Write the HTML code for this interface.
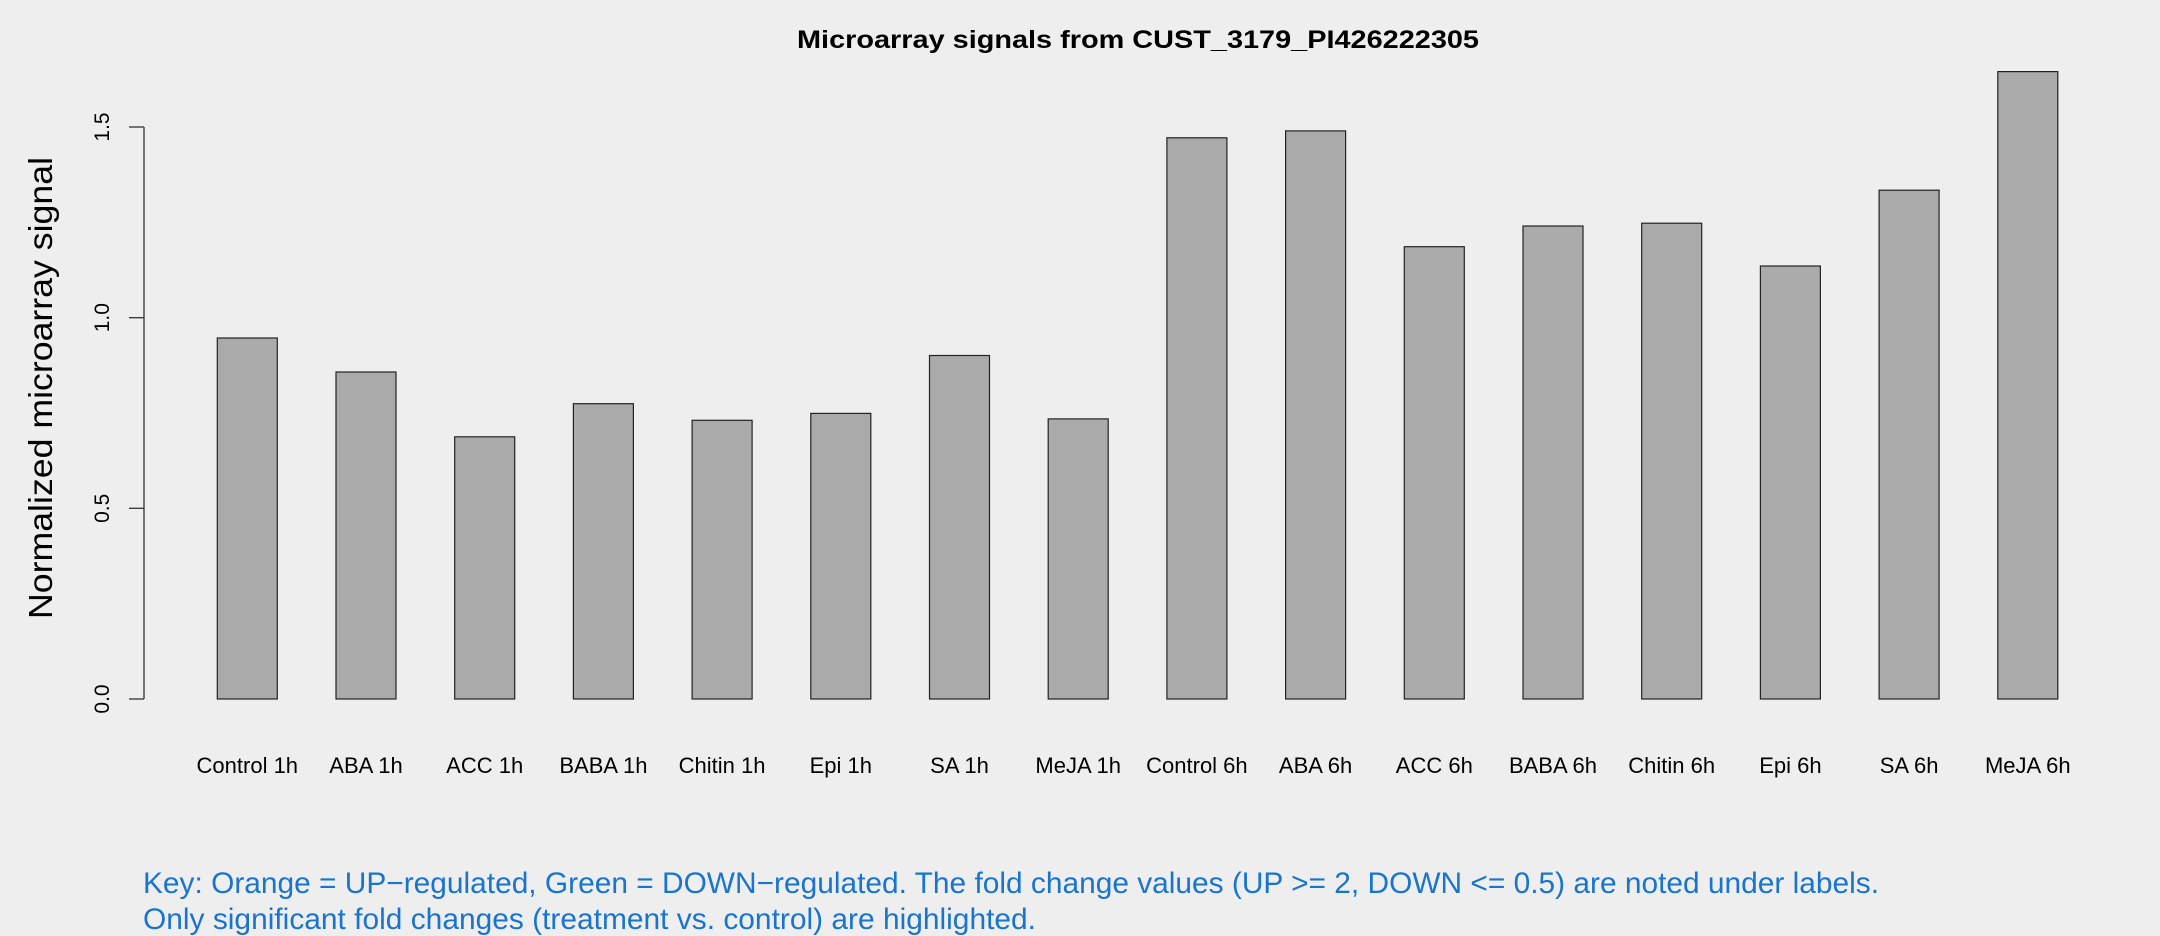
<!DOCTYPE html>
<html><head><style>html,body{margin:0;padding:0;background:#eeeeee;}svg{display:block;}</style></head>
<body>
<svg width="2160" height="936" viewBox="0 0 2160 936" xmlns="http://www.w3.org/2000/svg" font-family="Liberation Sans, Arial, sans-serif">
<rect width="2160" height="936" fill="#eeeeee"/>
<text x="1138" y="48" text-anchor="middle" font-size="25" font-weight="bold" textLength="682" lengthAdjust="spacingAndGlyphs">Microarray signals from CUST_3179_PI426222305</text>
<g stroke="#333" stroke-width="1.3" fill="none">
<line x1="144" y1="127" x2="144" y2="699"/>
<line x1="129" y1="127" x2="144" y2="127"/>
<line x1="129" y1="317.7" x2="144" y2="317.7"/>
<line x1="129" y1="508.3" x2="144" y2="508.3"/>
<line x1="129" y1="699" x2="144" y2="699"/>
</g>
<g font-size="21" text-anchor="middle" fill="#000">
<text transform="translate(109,699) rotate(-90)">0.0</text>
<text transform="translate(109,508.3) rotate(-90)">0.5</text>
<text transform="translate(109,317.7) rotate(-90)">1.0</text>
<text transform="translate(109,127) rotate(-90)">1.5</text>
</g>
<text transform="translate(52,388) rotate(-90)" font-size="33" text-anchor="middle" textLength="462" lengthAdjust="spacingAndGlyphs">Normalized microarray signal</text>
<g fill="#aaaaaa" stroke="#222" stroke-width="1.2">
<rect x="217.3" y="338" width="60" height="361"/>
<rect x="336" y="372" width="60" height="327"/>
<rect x="454.7" y="436.8" width="60" height="262.2"/>
<rect x="573.4" y="403.7" width="60" height="295.3"/>
<rect x="692.1" y="420.3" width="60" height="278.7"/>
<rect x="810.8" y="413.4" width="60" height="285.6"/>
<rect x="929.5" y="355.5" width="60" height="343.5"/>
<rect x="1048.2" y="418.9" width="60" height="280.1"/>
<rect x="1166.9" y="137.8" width="60" height="561.2"/>
<rect x="1285.6" y="130.9" width="60" height="568.1"/>
<rect x="1404.3" y="246.7" width="60" height="452.3"/>
<rect x="1523" y="226" width="60" height="473"/>
<rect x="1641.7" y="223.2" width="60" height="475.8"/>
<rect x="1760.4" y="266" width="60" height="433"/>
<rect x="1879.1" y="190.2" width="60" height="508.8"/>
<rect x="1997.8" y="71.6" width="60" height="627.4"/>
</g>
<g font-size="22" text-anchor="middle" fill="#000">
<text x="247.3" y="773">Control 1h</text>
<text x="366" y="773">ABA 1h</text>
<text x="484.7" y="773">ACC 1h</text>
<text x="603.4" y="773">BABA 1h</text>
<text x="722.1" y="773">Chitin 1h</text>
<text x="840.8" y="773">Epi 1h</text>
<text x="959.5" y="773">SA 1h</text>
<text x="1078.2" y="773">MeJA 1h</text>
<text x="1196.9" y="773">Control 6h</text>
<text x="1315.6" y="773">ABA 6h</text>
<text x="1434.3" y="773">ACC 6h</text>
<text x="1553" y="773">BABA 6h</text>
<text x="1671.7" y="773">Chitin 6h</text>
<text x="1790.4" y="773">Epi 6h</text>
<text x="1909.1" y="773">SA 6h</text>
<text x="2027.8" y="773">MeJA 6h</text>
</g>
<g font-size="30" fill="#1874cd">
<text x="143" y="893" textLength="1736" lengthAdjust="spacingAndGlyphs">Key: Orange = UP−regulated, Green = DOWN−regulated. The fold change values (UP &gt;= 2, DOWN &lt;= 0.5) are noted under labels.</text>
<text x="143" y="929" textLength="893" lengthAdjust="spacingAndGlyphs">Only significant fold changes (treatment vs. control) are highlighted.</text>
</g>
</svg>
</body></html>
